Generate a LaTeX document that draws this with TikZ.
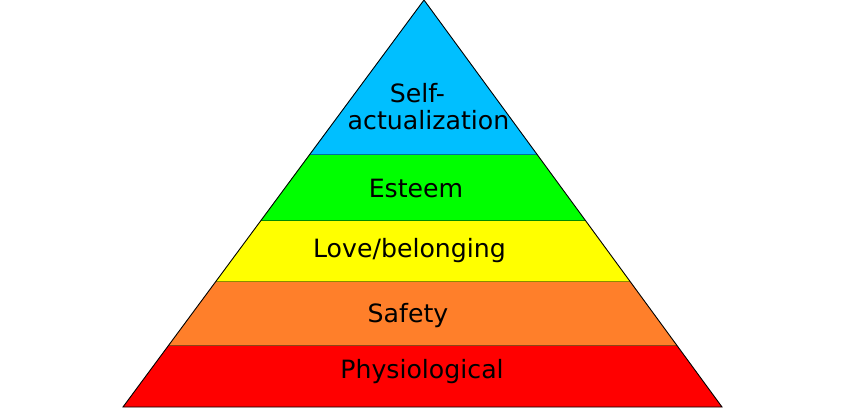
\documentclass[tikz,border=0pt]{standalone}
\usepackage{fontspec}
\setmainfont{DejaVu Sans}
\definecolor{cBlue}{RGB}{0,191,255}
\definecolor{cGreen}{RGB}{0,255,0}
\definecolor{cYellow}{RGB}{255,255,0}
\definecolor{cOrange}{RGB}{255,127,42}
\definecolor{cRed}{RGB}{255,0,0}
\begin{document}
\begin{tikzpicture}[x=1pt,y=-1pt,
  lbl/.style={anchor=base,inner sep=0pt,font=\fontsize{25.2}{27}\selectfont,align=center},
  layer/.style={line width=0.9pt,line join=miter}]
\useasboundingbox (0,0) rectangle (865,415);
% side coordinates
\coordinate (A) at (424,0);
\coordinate (L1) at (309.4,154.5); \coordinate (R1) at (537.1,154.5);
\coordinate (L2) at (261.2,220);   \coordinate (R2) at (585,220);
\coordinate (L3) at (216.1,281);   \coordinate (R3) at (629.7,281);
\coordinate (L4) at (168.8,345);   \coordinate (R4) at (676.6,345);
\coordinate (L5) at (123,407);     \coordinate (R5) at (722,407);
\fill[cBlue] (A) -- (R1) -- (L1) -- cycle;
\fill[cGreen] (L1) -- (R1) -- (R2) -- (L2) -- cycle;
\fill[cYellow] (L2) -- (R2) -- (R3) -- (L3) -- cycle;
\fill[cOrange] (L3) -- (R3) -- (R4) -- (L4) -- cycle;
\fill[cRed] (L4) -- (R4) -- (R5) -- (L5) -- cycle;
\draw[layer,cBlue!60!black] (L1) -- (R1);
\draw[layer,cGreen!55!black] (L2) -- (R2);
\draw[layer,cYellow!55!black] (L3) -- (R3);
\draw[layer,cOrange!55!black] (L4) -- (R4);
\draw[layer,black] (A) -- (R5) -- (L5) -- cycle;
\node[lbl] (self) at (428.5,129) {\hspace*{-22pt}Self-\\actualization};
\node[lbl] (esteem) at (416,197) {Esteem};
\node[lbl] (love) at (409.5,257) {Love/belonging};
\node[lbl] (safety) at (408,322) {Safety};
\node[lbl] (phys) at (422,378) {Physiological};
\end{tikzpicture}
\end{document}
